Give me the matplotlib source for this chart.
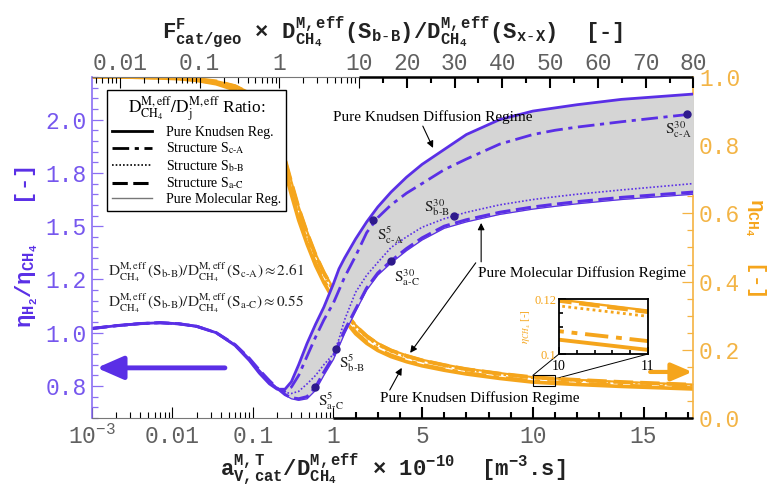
import numpy as np
import matplotlib
matplotlib.use("Agg")
import matplotlib.pyplot as plt
from matplotlib.lines import Line2D
from matplotlib.patches import Rectangle, ConnectionPatch
from matplotlib.font_manager import FontProperties

plt.rcParams['font.family'] = ['Liberation Mono', 'DejaVu Sans Mono']
plt.rcParams['mathtext.fontset'] = 'custom'
plt.rcParams['mathtext.rm'] = 'Liberation Mono'
plt.rcParams['mathtext.it'] = 'Liberation Mono:italic'
plt.rcParams['mathtext.bf'] = 'Liberation Mono:bold'

# ---------------- data ----------------
x_vals = [0.001, 0.002, 0.004, 0.007, 0.012, 0.02, 0.035, 0.06, 0.09, 0.12, 0.16, 0.2, 0.25,
          0.3, 0.37, 0.47, 0.6, 0.76, 1.0, 1.25, 1.5, 2.0, 2.5, 3.0, 3.6, 4.3, 5.0, 6.0, 7.0,
          8.5, 10.0, 11.0, 12.0, 14.0, 17.25]

ratio_knudsen = [1.02, 1.033, 1.043, 1.047, 1.042, 1.03, 1.0, 0.94, 0.87, 0.81, 0.76, 0.735, 0.735,
                 0.77, 0.85, 0.95, 1.04, 1.12, 1.23, 1.30, 1.35, 1.44, 1.52, 1.59, 1.66, 1.73, 1.79,
                 1.86, 1.93, 2.0, 2.04, 2.055, 2.07, 2.095, 2.12]
ratio_cA = [1.02, 1.033, 1.043, 1.047, 1.042, 1.03, 1.0, 0.942, 0.875, 0.815, 0.765, 0.737, 0.727,
            0.745, 0.80, 0.89, 0.98, 1.06, 1.14, 1.20, 1.26, 1.36, 1.47, 1.54, 1.60, 1.655, 1.70,
            1.765, 1.815, 1.885, 1.93, 1.95, 1.965, 1.99, 2.027]
ratio_bB = [1.02, 1.033, 1.043, 1.047, 1.042, 1.03, 1.0, 0.943, 0.878, 0.82, 0.77, 0.74, 0.72,
            0.715, 0.725, 0.76, 0.80, 0.85, 0.90, 0.97, 1.06, 1.19, 1.27, 1.33, 1.40, 1.45, 1.495,
            1.535, 1.565, 1.60, 1.625, 1.638, 1.65, 1.67, 1.70]
ratio_aC = [1.02, 1.033, 1.043, 1.047, 1.042, 1.03, 1.0, 0.944, 0.88, 0.825, 0.775, 0.74, 0.71,
            0.695, 0.69, 0.70, 0.745, 0.815, 0.89, 0.95, 1.01, 1.11, 1.21, 1.28, 1.337, 1.395, 1.445,
            1.50, 1.53, 1.565, 1.59, 1.603, 1.615, 1.635, 1.66]
ratio_mol = [1.02, 1.033, 1.043, 1.047, 1.042, 1.03, 1.0, 0.944, 0.88, 0.826, 0.776, 0.741, 0.708,
             0.69, 0.683, 0.69, 0.73, 0.80, 0.875, 0.935, 0.995, 1.10, 1.20, 1.27, 1.327, 1.385,
             1.435, 1.49, 1.52, 1.555, 1.58, 1.593, 1.605, 1.625, 1.65]

eta_knudsen = [1.0, 1.0, 0.999, 0.997, 0.995, 0.99, 0.98, 0.962, 0.937, 0.905, 0.857, 0.80, 0.725,
               0.655, 0.58, 0.51, 0.447, 0.397, 0.348, 0.313, 0.287, 0.247, 0.219, 0.198, 0.18,
               0.165, 0.153, 0.14, 0.129, 0.116, 0.1052, 0.1015, 0.0982, 0.0925, 0.085]
eta_cA = [1.0, 1.0, 0.999, 0.998, 0.996, 0.991, 0.982, 0.965, 0.941, 0.91, 0.863, 0.808, 0.733,
          0.663, 0.588, 0.517, 0.453, 0.403, 0.354, 0.319, 0.292, 0.252, 0.223, 0.202, 0.184,
          0.168, 0.156, 0.143, 0.132, 0.119, 0.1083, 0.1047, 0.1013, 0.0955, 0.088]
eta_bB = [1.0, 1.0, 0.999, 0.998, 0.997, 0.993, 0.986, 0.971, 0.95, 0.922, 0.878, 0.825, 0.752,
          0.683, 0.608, 0.537, 0.472, 0.421, 0.371, 0.335, 0.308, 0.266, 0.236, 0.214, 0.195,
          0.179, 0.167, 0.153, 0.141, 0.128, 0.1175, 0.1137, 0.110, 0.104, 0.096]
eta_aC = [1.0, 1.0, 1.0, 0.999, 0.997, 0.994, 0.987, 0.973, 0.952, 0.925, 0.882, 0.83, 0.758,
          0.69, 0.615, 0.543, 0.478, 0.426, 0.376, 0.34, 0.312, 0.27, 0.24, 0.217, 0.198, 0.182,
          0.169, 0.155, 0.143, 0.13, 0.1194, 0.1153, 0.1116, 0.1055, 0.0975]
eta_mol = [1.0, 1.0, 1.0, 0.999, 0.998, 0.995, 0.988, 0.975, 0.955, 0.928, 0.886, 0.834, 0.763,
           0.695, 0.62, 0.548, 0.482, 0.43, 0.38, 0.344, 0.316, 0.273, 0.243, 0.22, 0.2, 0.184,
           0.171, 0.157, 0.145, 0.132, 0.1198, 0.1158, 0.1121, 0.106, 0.098]

marker_x = [2.8, 6.46, 3.6, 1.12, 0.598, 16.96]
marker_y = [1.53, 1.548, 1.337, 0.924, 0.745, 2.025]
marker_labels = [r'$\mathrm{S^{5}_{c\text{-}A}}$', r'$\mathrm{S^{30}_{b\text{-}B}}$',
                 r'$\mathrm{S^{30}_{a\text{-}C}}$', r'$\mathrm{S^{5}_{b\text{-}B}}$',
                 r'$\mathrm{S^{5}_{a\text{-}C}}$', r'$\mathrm{S^{30}_{c\text{-}A}}$']

bottom_major = [0.001, 0.01, 0.1, 1, 5, 10, 15]
bottom_labels = [r'$10^{-3}$', '0.01', '0.1', '1', '5', '10', '15']
top_major = [0.01, 0.1, 1, 10, 20, 30, 40, 50, 60, 70, 80]
top_labels = ['0.01', '0.1', '1', '10', '20', '30', '40', '50', '60', '70', '80']
left_major = [0.75, 1.0, 1.25, 1.5, 1.75, 2.0]
left_labels = ['0.8', '1.0', '1.2', '1.5', '1.8', '2.0']
right_major = [0.0, 0.2, 0.4, 0.6, 0.8, 1.0]
right_labels = ['0.0', '0.2', '0.4', '0.6', '0.8', '1.0']

# ---------------- styles ----------------
BLUE = '#5a2fe6'
BLUE_T = '#7657ee'
ORANGE = '#f5a51c'
ORANGE_T = '#f3b445'
MARK = '#2e1a8c'
TICKC = '#606060'
styles = {
    'kn': dict(ls='-', lw=2.0),
    'cA': dict(ls=(0, (6, 2, 1.5, 2)), lw=2.0),
    'bB': dict(ls=(0, (1, 1.2)), lw=1.2),
    'aC': dict(ls=(0, (5, 1.8)), lw=2.2),
    'mol': dict(ls='-', lw=0.9),
}

# hybrid scales: log up to a break, linear after
K_B = 22.16 / 80.5
K_T = 4.783 / 79.8


def fwd_b(x):
    x = np.asarray(x, dtype=float)
    lg = np.log10(np.clip(x, 1e-12, None))
    return np.where(x <= 1, lg, (x - 1) * K_B)


def inv_b(u):
    u = np.asarray(u, dtype=float)
    return np.where(u <= 0, 10.0 ** np.clip(u, -12, 0), 1 + np.clip(u, 0, None) / K_B)


def fwd_t(x):
    x = np.asarray(x, dtype=float)
    lg = np.log10(np.clip(x, 1e-12, None))
    return np.where(x <= 10, lg, 1 + (x - 10) * K_T)


def inv_t(u):
    u = np.asarray(u, dtype=float)
    return np.where(u <= 1, 10.0 ** np.clip(u, -12, 1), 10 + np.clip(u - 1, 0, None) / K_T)


fig = plt.figure(figsize=(7.77, 4.87), dpi=100)
ax = fig.add_axes([0.1184, 0.1417, 0.7741, 0.7002])
ax.set_xscale('function', functions=(fwd_b, inv_b))
ax.set_xlim(0.001, 17.25)
ax.set_ylim(0.6, 2.2)

ax2 = ax.twinx()
ax2.set_ylim(0.0, 1.0)
ax_top = ax.twiny()
ax_top.set_xscale('function', functions=(fwd_t, inv_t))
ax_top.set_xlim(0.00446, 80)

ax.set_zorder(2)
ax.patch.set_visible(False)
ax2.set_zorder(1)
ax_top.set_zorder(3)

# ---------- blue curves (left axis) ----------
ax.fill_between(x_vals, ratio_mol, ratio_knudsen, color='#d5d5d5', lw=0, zorder=0)
for key, arr in [('mol', ratio_mol), ('aC', ratio_aC), ('bB', ratio_bB), ('cA', ratio_cA),
                 ('kn', ratio_knudsen)]:
    ax.plot(x_vals, arr, color=BLUE, solid_capstyle='butt', zorder=2, **styles[key])

ax.plot(marker_x, marker_y, 'o', ms=5, color=MARK, zorder=4)
offsets = [(3, -11, 'left'), (-3, 6, 'right'), (2, -12, 'left'), (2, -10, 'left'),
           (2, -10, 'left'), (3, -11, 'right')]
for mx, my, lab, (dx, dy, ha) in zip(marker_x, marker_y, marker_labels, offsets):
    ax.annotate(lab, (mx, my), xytext=(dx, dy), textcoords='offset points', ha=ha, va='center',
                fontsize=11, math_fontfamily='stix', color='#222', zorder=5)

# ---------- orange curves (right axis) ----------
for key, arr in [('mol', eta_mol), ('aC', eta_aC), ('bB', eta_bB), ('cA', eta_cA),
                 ('kn', eta_knudsen)]:
    st = dict(styles[key])
    st['lw'] = st['lw'] + 0.6
    ax2.plot(x_vals, arr, color=ORANGE, solid_capstyle='butt', **st)

# ---------- axes styling ----------
for s in ['top', 'right']:
    ax.spines[s].set_visible(False)
for s in ['top', 'bottom', 'left']:
    ax2.spines[s].set_visible(False)
for s in ['bottom', 'left', 'right']:
    ax_top.spines[s].set_visible(False)
ax.spines['left'].set_color('#8b6ff3')
ax.spines['left'].set_linewidth(1.2)
ax2.spines['right'].set_color('#f5b342')
ax2.spines['right'].set_linewidth(1.2)
ax.spines['bottom'].set_color('#777777')
ax.spines['bottom'].set_linewidth(0.8)
ax_top.spines['top'].set_color('#777777')
ax_top.spines['top'].set_linewidth(0.8)
ax.plot([1, 17.25], [0, 0], transform=ax.get_xaxis_transform(), color='k', lw=1.8,
        clip_on=False, zorder=6, solid_capstyle='butt')
ax_top.plot([10, 80], [1, 1], transform=ax_top.get_xaxis_transform(), color='k', lw=1.8,
            clip_on=False, zorder=6, solid_capstyle='butt')

tick_font = dict(fontsize=16.5, family='Liberation Mono')
ytick_font = dict(fontsize=16.5, family='Liberation Mono')

# bottom axis
minor_b = [m * d for d in (0.001, 0.01, 0.1) for m in range(2, 10)] + \
          [v for v in range(2, 18) if v not in (5, 10, 15)]
ax.set_xticks(bottom_major)
ax.set_xticklabels(bottom_labels, color=TICKC, **tick_font)
ax.set_xticks(minor_b, minor=True)
ax.tick_params(axis='x', which='major', direction='in', length=8, width=0.8, pad=5)
ax.tick_params(axis='x', which='minor', direction='in', length=4, width=0.8)
for t, loc in zip(ax.xaxis.get_major_ticks(), bottom_major):
    lin = loc > 1
    t.tick1line.set_color('k' if lin else '#666666')
    t.tick1line.set_markeredgewidth(1.5 if lin else 0.8)
for t, loc in zip(ax.xaxis.get_minor_ticks(), minor_b):
    lin = loc > 1
    t.tick1line.set_color('k' if lin else '#666666')
    t.tick1line.set_markeredgewidth(1.5 if lin else 0.8)

# top axis
minor_t = [m * d for d in (0.001, 0.01, 0.1, 1) for m in range(2, 10)] + list(range(15, 80, 10))
minor_t = [v for v in minor_t if v >= 0.0045]
ax_top.set_xticks(top_major)
ax_top.set_xticklabels(top_labels, color=TICKC, **tick_font)
ax_top.set_xticks(minor_t, minor=True)
ax_top.tick_params(axis='x', which='major', direction='in', length=8, width=0.8, pad=1.5)
ax_top.tick_params(axis='x', which='minor', direction='in', length=4, width=0.8)
for t, loc in zip(ax_top.xaxis.get_major_ticks(), top_major):
    lin = loc > 10
    t.tick2line.set_color('k' if lin else '#666666')
    t.tick2line.set_markeredgewidth(1.5 if lin else 0.8)
for t, loc in zip(ax_top.xaxis.get_minor_ticks(), minor_t):
    lin = loc > 10
    t.tick2line.set_color('k' if lin else '#666666')
    t.tick2line.set_markeredgewidth(1.5 if lin else 0.8)

# left axis
ax.set_yticks(left_major)
ax.set_yticklabels(left_labels, color=BLUE_T, **ytick_font)
ax.set_yticks(np.arange(0.6, 2.201, 0.05), minor=True)
ax.tick_params(axis='y', which='major', direction='in', length=8, width=0.9, color='#8b6ff3', pad=4)
ax.tick_params(axis='y', which='minor', direction='in', length=4, width=0.9, color='#8b6ff3')

# right axis
ax2.set_yticks(right_major)
ax2.set_yticklabels(right_labels, color=ORANGE_T, **ytick_font)
ax2.set_yticks(np.arange(0.0, 1.001, 0.05), minor=True)
ax2.tick_params(axis='y', which='major', direction='in', length=8, width=0.9, color='#f5b342', pad=4)
ax2.tick_params(axis='y', which='minor', direction='in', length=4, width=0.9, color='#f5b342')

# axis labels
ax.set_xlabel(r'$\mathbf{a^{M,T}_{V,cat}/D^{M,eff}_{CH_4}}$ × $\mathbf{10^{-10}}$  [$\mathbf{m^{-3}}$.s]',
              fontsize=16, fontweight='bold', color='#222222', labelpad=2)
ax_top.set_xlabel(r'$\mathbf{F^{F}_{cat/geo}}$ × $\mathbf{D^{M,eff}_{CH_4}(S_{b\text{-}B})/D^{M,eff}_{CH_4}(S_{x\text{-}X})}$  [-]',
                  fontsize=16, fontweight='bold', color='#222222', labelpad=10)
ax.set_ylabel(r'$\mathbf{\eta_{H_2}/\eta_{CH_4}}$   [-]', fontsize=16, fontweight='bold',
              color=BLUE, labelpad=4)
ax2.set_ylabel(r'$\mathbf{\eta_{CH_4}}$  [-]', fontsize=15, fontweight='bold', color=ORANGE,
               rotation=270, labelpad=20)

# legend
serif = FontProperties(family='Liberation Serif', size=10, math_fontfamily='stix')
serif_t = FontProperties(family='Liberation Serif', size=12.5, math_fontfamily='stix')
handles = [Line2D([], [], color='k', ls='-', lw=2.0),
           Line2D([], [], color='k', ls=(0, (6, 2, 1.5, 2)), lw=2.0),
           Line2D([], [], color='k', ls=(0, (1, 1.2)), lw=1.2),
           Line2D([], [], color='k', ls=(0, (5, 1.8)), lw=2.2),
           Line2D([], [], color='#777777', ls='-', lw=1.0)]
labels = ['Pure Knudsen Reg.', r'Structure S$_{\mathrm{c\text{-}A}}$',
          r'Structure S$_{\mathrm{b\text{-}B}}$', r'Structure S$_{\mathrm{a\text{-}C}}$',
          'Pure Molecular Reg.']
leg = ax.legend(handles, labels, loc='upper left', bbox_to_anchor=(0.025, 0.962),
                borderaxespad=0, prop=serif, title=r'$\mathrm{D^{M,eff}_{CH_4}/D^{M,eff}_{j}}$ Ratio:',
                title_fontproperties=serif_t, fancybox=False, edgecolor='k', framealpha=1,
                handlelength=2.9, labelspacing=0.12, borderpad=0.35, handletextpad=1.0)
leg.get_frame().set_linewidth(1.0)
leg.set_zorder(10)

# annotations
txt_kw = dict(xycoords='axes fraction', textcoords='axes fraction')
arr = dict(arrowstyle='-|>', color='k', lw=0.8, mutation_scale=10, shrinkA=0, shrinkB=0)
ax.text(0.567, 0.883, 'Pure Knudsen Diffusion Regime', transform=ax.transAxes, ha='center',
        va='center', fontsize=11, family='Liberation Serif', zorder=5)
ax.annotate('', xy=(0.567, 0.792), xytext=(0.55, 0.856), arrowprops=arr, **txt_kw)
ax.text(0.642, 0.425, 'Pure Molecular Diffusion Regime', transform=ax.transAxes, ha='left',
        va='center', fontsize=11, family='Liberation Serif', zorder=5)
ax.annotate('', xy=(0.647, 0.572), xytext=(0.647, 0.458), arrowprops=arr, **txt_kw)
ax.annotate('', xy=(0.529, 0.191), xytext=(0.638, 0.455), arrowprops=arr, **txt_kw)
ax.text(0.479, 0.059, 'Pure Knudsen Diffusion Regime', transform=ax.transAxes, ha='left',
        va='center', fontsize=11, family='Liberation Serif', zorder=5)
ax.annotate('', xy=(0.515, 0.147), xytext=(0.495, 0.082), arrowprops=arr, **txt_kw)

ax.text(0.027, 0.428, r'$\mathrm{D^{M,eff}_{CH_4}\,(S_{b\text{-}B})/D^{M,eff}_{CH_4}\,(S_{c\text{-}A})\approx 2.61}$',
        transform=ax.transAxes, ha='left', va='center', fontsize=11, math_fontfamily='stix',
        color='#222222')
ax.text(0.027, 0.337, r'$\mathrm{D^{M,eff}_{CH_4}\,(S_{b\text{-}B})/D^{M,eff}_{CH_4}\,(S_{a\text{-}C})\approx 0.55}$',
        transform=ax.transAxes, ha='left', va='center', fontsize=11, math_fontfamily='stix',
        color='#222222')

# direction arrows
ax.annotate('', xy=(0.008, 0.147), xytext=(0.221, 0.147), xycoords='axes fraction',
            textcoords='axes fraction',
            arrowprops=dict(arrowstyle='-|>,head_length=0.8,head_width=0.35', lw=3.5,
                            color=BLUE, mutation_scale=20, shrinkA=0, shrinkB=0))
ax.annotate('', xy=(0.998, 0.135), xytext=(0.928, 0.135), xycoords='axes fraction',
            textcoords='axes fraction',
            arrowprops=dict(arrowstyle='-|>,head_length=0.7,head_width=0.3', lw=3.0,
                            color=ORANGE, mutation_scale=18, shrinkA=0, shrinkB=0))

# zoom rectangle + inset
ax2.add_patch(Rectangle((10, 0.095), 1, 0.03, fill=False, ec='k', lw=0.8, zorder=6))
ax_in = fig.add_axes([0.7194, 0.2731, 0.1145, 0.1129])
ax_in.set_zorder(20)
for key, arrv in [('mol', eta_mol), ('aC', eta_aC), ('bB', eta_bB), ('cA', eta_cA),
                  ('kn', eta_knudsen)]:
    st = dict(styles[key])
    st['lw'] = st['lw'] + 0.8
    ax_in.plot(x_vals, arrv, color=ORANGE, solid_capstyle='butt', **st)
ax_in.set_xlim(10, 11)
ax_in.set_ylim(0.1, 0.12)
ax_in.set_xticks([10, 11])
ax_in.set_xticklabels(['10', '11'], fontsize=10, family='Liberation Serif')
ax_in.set_xticks([10.2, 10.4, 10.6, 10.8], minor=True)
ax_in.set_yticks([0.1, 0.12])
ax_in.set_yticklabels(['0.1', '0.12'], fontsize=9, family='Liberation Serif', color=ORANGE)
ax_in.set_yticks([0.105, 0.11, 0.115], minor=True)
ax_in.tick_params(which='both', direction='in', width=1.2)
ax_in.tick_params(axis='x', pad=4)
ax_in.tick_params(axis='y', pad=2)
ax_in.tick_params(which='major', length=5)
ax_in.tick_params(which='minor', length=3)
ax_in.set_ylabel(r'$\eta_{CH_4}$ [-]', fontsize=8, color=ORANGE, math_fontfamily='stix',
                 family='Liberation Serif', labelpad=1)
for s in ax_in.spines.values():
    s.set_linewidth(1.3)
for xa, ya, xb_, yb in [(10, 0.125, 10, 0.1), (11, 0.115, 11, 0.1)]:
    con = ConnectionPatch(xyA=(xa, ya), coordsA=ax2.transData, xyB=(xb_, yb),
                          coordsB=ax_in.transData, color='k', lw=0.7)
    fig.add_artist(con)

fig.savefig('out.png', dpi=100)
